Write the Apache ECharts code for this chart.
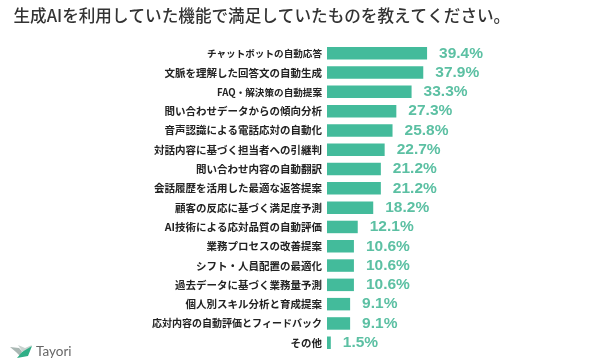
<!DOCTYPE html>
<html>
<head>
<meta charset="utf-8">
<style>
  html, body { margin: 0; padding: 0; background: #fff; }
  #chart { width: 600px; height: 362px; }
</style>
<script src="https://cdn.jsdelivr.net/npm/echarts@6/dist/echarts.min.js"></script>
</head>
<body>
<div id="chart"></div>
<script>
const categories = [
  'チャットボットの自動応答',
  '文脈を理解した回答文の自動生成',
  'FAQ・解決策の自動提案',
  '問い合わせデータからの傾向分析',
  '音声認識による電話応対の自動化',
  '対話内容に基づく担当者への引継判',
  '問い合わせ内容の自動翻訳',
  '会話履歴を活用した最適な返答提案',
  '顧客の反応に基づく満足度予測',
  'AI技術による応対品質の自動評価',
  '業務プロセスの改善提案',
  'シフト・人員配置の最適化',
  '過去データに基づく業務量予測',
  '個人別スキル分析と育成提案',
  '応対内容の自動評価とフィードバック',
  'その他'
];
const values = [39.4, 37.9, 33.3, 27.3, 25.8, 22.7, 21.2, 21.2, 18.2, 12.1, 10.6, 10.6, 10.6, 9.1, 9.1, 1.5];

const FONT = '"Noto Sans CJK JP", "Noto Sans", sans-serif';
const GREEN = '#43bb9b';

// katakana heavy labels are set tighter in the original
const labelSize = name => {
  if (name.startsWith('チャット') || name.startsWith('FAQ')) return 9.6;
  if (name.startsWith('応対内容')) return 10;
  return 10.5;
};

const chart = echarts.init(document.getElementById('chart'), null, { renderer: 'canvas' });

chart.setOption({
  animation: false,
  backgroundColor: '#fff',
  title: {
    text: '生成AIを利用していた機能で満足していたものを教えてください。',
    left: 8.5,
    top: 2.5,
    textStyle: { fontFamily: FONT, fontSize: 16.6, fontWeight: 500, color: '#333' }
  },
  grid: { left: 327, top: 43.6, width: 127, height: 308.8, containLabel: false },
  xAxis: { type: 'value', min: 0, max: 50, show: false },
  yAxis: {
    type: 'category',
    inverse: true,
    data: categories.map(name => ({ value: name, textStyle: { fontSize: labelSize(name) } })),
    axisLine: { show: false },
    axisTick: { show: false },
    axisLabel: {
      margin: 5,
      interval: 0,
      fontFamily: FONT,
      fontWeight: 700,
      color: '#222'
    }
  },
  series: [{
    type: 'bar',
    data: values,
    barWidth: 12.5,
    itemStyle: { color: GREEN },
    label: {
      show: true,
      position: 'right',
      distance: 12,
      formatter: p => p.value.toFixed(1) + '%',
      fontFamily: '"Liberation Sans", Arial, sans-serif',
      fontSize: 15.5,
      fontWeight: 700,
      color: '#5cc0a3'
    }
  }],
  graphic: [
    // Tayori logo mark
    { type: 'polygon', shape: { points: [[10, 347], [19, 348], [22, 351], [20, 356], [16, 352]] }, style: { fill: '#a9b7b3' } },
    { type: 'polygon', shape: { points: [[18, 345], [25, 348], [32, 345], [27, 353], [22, 351]] }, style: { fill: '#c9d3d0' } },
    { type: 'polygon', shape: { points: [[17, 358], [22, 352], [32, 346], [28, 356]] }, style: { fill: '#2fae86' } },
    { type: 'text', left: 36, top: 345, style: { text: 'Tayori', font: '400 13.5px "Lato", sans-serif', fill: '#666', letterSpacing: 0.9 } }
  ]
});
</script>
</body>
</html>
